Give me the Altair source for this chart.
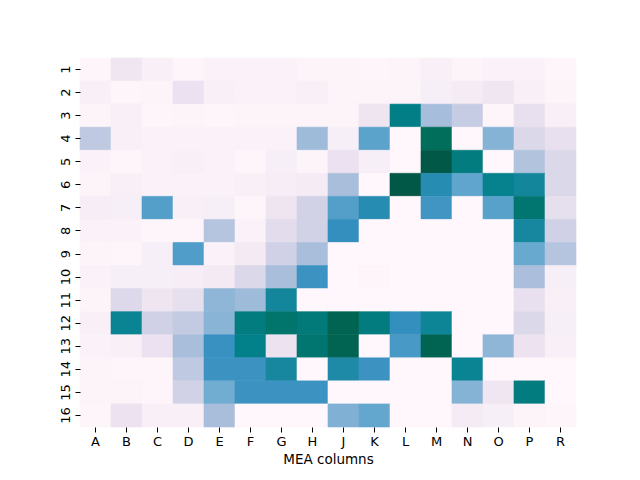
import altair as alt
import pandas as pd

cols = ["A", "B", "C", "D", "E", "F", "G", "H", "J", "K", "L", "M", "N", "O", "P", "R"]
rows = [str(i) for i in range(1, 17)]

r1 = [0.01, 0.10, 0.04, 0.01, 0.03, 0.03, 0.03, 0.02, 0.02, 0.01, 0.02, 0.04, 0.02, 0.03, 0.03, 0.01]
r2 = [0.04, 0.01, 0.02, 0.13, 0.04, 0.03, 0.03, 0.04, 0.02, 0.02, 0.02, 0.05, 0.07, 0.10, 0.04, 0.02]
r3 = [0.02, 0.04, 0.01, 0.02, 0.01, 0.02, 0.02, 0.02, 0.02, 0.11, 0.76, 0.375, 0.28, 0.01, 0.14, 0.04]
r4 = [0.30, 0.04, 0.03, 0.03, 0.03, 0.03, 0.03, 0.39, 0.05, 0.53, 0.0, 0.87, 0.0, 0.44, 0.20, 0.14]
r5 = [0.03, 0.01, 0.03, 0.04, 0.03, 0.01, 0.05, 0.02, 0.13, 0.05, 0.0, 0.94, 0.78, 0.0, 0.34, 0.20]
r6 = [0.02, 0.04, 0.03, 0.03, 0.03, 0.04, 0.06, 0.07, 0.37, 0.0, 0.94, 0.66, 0.52, 0.74, 0.71, 0.20]
r7 = [0.06, 0.05, 0.55, 0.04, 0.05, 0.01, 0.11, 0.24, 0.55, 0.66, 0.0, 0.60, 0.0, 0.54, 0.82, 0.15]
r8 = [0.03, 0.03, 0.01, 0.01, 0.33, 0.03, 0.17, 0.24, 0.63, 0.0, 0.0, 0.0, 0.0, 0.0, 0.70, 0.25]
r9 = [0.02, 0.01, 0.05, 0.56, 0.03, 0.08, 0.25, 0.37, 0.0, 0.0, 0.0, 0.0, 0.0, 0.0, 0.50, 0.33]
r10 = [0.03, 0.05, 0.05, 0.06, 0.08, 0.20, 0.37, 0.61, 0.0, 0.01, 0.0, 0.0, 0.0, 0.0, 0.36, 0.05]
r11 = [0.02, 0.19, 0.11, 0.15, 0.42, 0.39, 0.71, 0.0, 0.0, 0.0, 0.0, 0.0, 0.0, 0.0, 0.14, 0.04]
r12 = [0.04, 0.73, 0.25, 0.29, 0.43, 0.78, 0.83, 0.79, 0.90, 0.78, 0.63, 0.72, 0.0, 0.0, 0.20, 0.05]
r13 = [0.03, 0.04, 0.13, 0.37, 0.62, 0.75, 0.12, 0.82, 0.90, 0.0, 0.58, 0.90, 0.0, 0.42, 0.12, 0.04]
r14 = [0.02, 0.01, 0.01, 0.30, 0.61, 0.61, 0.70, 0.0, 0.68, 0.61, 0.0, 0.0, 0.73, 0.0, 0.0, 0.0]
r15 = [0.02, 0.02, 0.01, 0.24, 0.48, 0.61, 0.61, 0.61, 0.0, 0.0, 0.0, 0.0, 0.44, 0.10, 0.78, 0.0]
r16 = [0.01, 0.12, 0.04, 0.04, 0.37, 0.0, 0.0, 0.0, 0.45, 0.51, 0.0, 0.0, 0.07, 0.05, 0.02, 0.01]

grid = [r1, r2, r3, r4, r5, r6, r7, r8, r9, r10, r11, r12, r13, r14, r15, r16]

# ColorBrewer PuBuGn (9 stops), as in matplotlib's PuBuGn colormap
stops = [0, 0.125, 0.25, 0.375, 0.5, 0.625, 0.75, 0.875, 1.0]
pubugn = ["#fff7fb", "#ece2f0", "#d0d1e6", "#a6bddb", "#67a9cf",
          "#3690c0", "#02818a", "#016c59", "#014636"]

records = []
for ri, rv in zip(rows, grid):
    for ci, v in zip(cols, rv):
        records.append({"row": ri, "col": ci, "value": v})
df = pd.DataFrame(records)

font = "DejaVu Sans"
cscale = alt.Scale(domain=stops, range=pubugn, interpolate="rgb")

chart = alt.Chart(df).mark_rect(strokeWidth=0.6).encode(
    x=alt.X("col:O", sort=cols, title="MEA columns",
            scale=alt.Scale(paddingInner=0, paddingOuter=0),
            axis=alt.Axis(labelAngle=0, domain=False, tickSize=5, tickColor="#000",
                          labelColor="#000", labelFontSize=13, labelFont=font,
                          titleFont=font, titleFontSize=13.5, titleFontWeight="normal",
                          titleColor="#000", labelPadding=3, titlePadding=4)),
    y=alt.Y("row:O", sort=rows, title=None,
            scale=alt.Scale(paddingInner=0, paddingOuter=0),
            axis=alt.Axis(labelAngle=270, labelAlign="center", labelBaseline="bottom",
                          domain=False, tickSize=5, tickColor="#000",
                          labelColor="#000", labelFontSize=13, labelFont=font,
                          labelPadding=3)),
    color=alt.Color("value:Q", scale=cscale, legend=None),
    stroke=alt.Stroke("value:Q", scale=cscale, legend=None),
).properties(
    width=496, height=369,
    autosize=alt.AutoSizeParams(type="none"),
    padding={"left": 72, "top": 50, "right": 50, "bottom": 50},
).configure_view(stroke=None)

chart.save("out.html", embed_options={"renderer": "svg", "actions": False})
